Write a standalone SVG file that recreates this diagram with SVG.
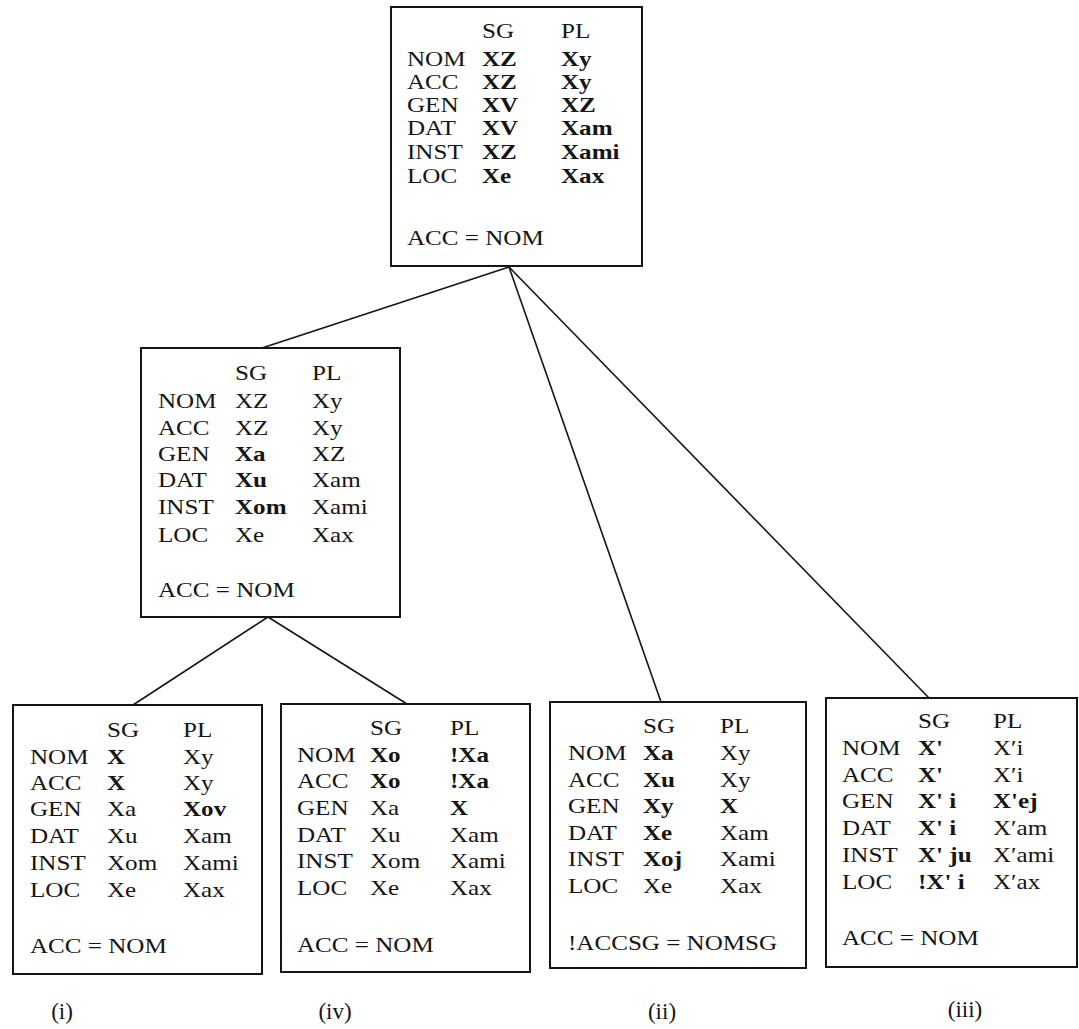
<svg xmlns="http://www.w3.org/2000/svg" width="1079" height="1029" viewBox="0 0 1079 1029">
<style>
.t{font-family:"Liberation Serif","DejaVu Serif",serif;font-size:22px;fill:#151515}
.b{font-weight:bold}
.box{fill:#fff;stroke:#151515;stroke-width:2}
.edge{stroke:#151515;stroke-width:1.6;fill:none}
.lab{font-family:"Liberation Serif","DejaVu Serif",serif;font-size:23px;fill:#151515;text-anchor:middle}
</style>
<rect width="1079" height="1029" fill="#fff"/>
<g id="connectors">
<line class="edge" x1="509" y1="267" x2="262" y2="348"/>
<line class="edge" x1="509" y1="267" x2="661" y2="702"/>
<line class="edge" x1="509" y1="267" x2="929" y2="698"/>
<line class="edge" x1="268" y1="617" x2="133" y2="705"/>
<line class="edge" x1="268" y1="617" x2="407" y2="704"/>
</g>
<g id="node-top">
<rect class="box" x="391" y="7" width="251" height="259"/>
<g class="t" transform="translate(407 0) scale(1.14 1)"><text y="66">NOM</text><text y="89">ACC</text><text y="112">GEN</text><text y="135">DAT</text><text y="159">INST</text><text y="183">LOC</text><text y="245">ACC = NOM</text></g>
<g class="t" transform="translate(482 0) scale(1.14 1)"><text y="38">SG</text><text class="b" y="66">XZ</text><text class="b" y="89">XZ</text><text class="b" y="112">XV</text><text class="b" y="135">XV</text><text class="b" y="159">XZ</text><text class="b" y="183">Xe</text></g>
<g class="t" transform="translate(561 0) scale(1.14 1)"><text y="38">PL</text><text class="b" y="66">Xy</text><text class="b" y="89">Xy</text><text class="b" y="112">XZ</text><text class="b" y="135">Xam</text><text class="b" y="159">Xami</text><text class="b" y="183">Xax</text></g>
</g>
<g id="node-mid">
<rect class="box" x="141" y="348" width="259" height="269"/>
<g class="t" transform="translate(158 0) scale(1.14 1)"><text y="408">NOM</text><text y="435">ACC</text><text y="461">GEN</text><text y="487">DAT</text><text y="514">INST</text><text y="542">LOC</text><text y="597">ACC = NOM</text></g>
<g class="t" transform="translate(235 0) scale(1.14 1)"><text y="380">SG</text><text y="408">XZ</text><text y="435">XZ</text><text class="b" y="461">Xa</text><text class="b" y="487">Xu</text><text class="b" y="514">Xom</text><text y="542">Xe</text></g>
<g class="t" transform="translate(312 0) scale(1.14 1)"><text y="380">PL</text><text y="408">Xy</text><text y="435">Xy</text><text y="461">XZ</text><text y="487">Xam</text><text y="514">Xami</text><text y="542">Xax</text></g>
</g>
<g id="node-i">
<rect class="box" x="13" y="705" width="249" height="269"/>
<g class="t" transform="translate(30 0) scale(1.14 1)"><text y="764">NOM</text><text y="790">ACC</text><text y="816">GEN</text><text y="843">DAT</text><text y="870">INST</text><text y="897">LOC</text><text y="953">ACC = NOM</text></g>
<g class="t" transform="translate(107 0) scale(1.14 1)"><text y="737">SG</text><text class="b" y="764">X</text><text class="b" y="790">X</text><text y="816">Xa</text><text y="843">Xu</text><text y="870">Xom</text><text y="897">Xe</text></g>
<g class="t" transform="translate(183 0) scale(1.14 1)"><text y="737">PL</text><text y="764">Xy</text><text y="790">Xy</text><text class="b" y="816">Xov</text><text y="843">Xam</text><text y="870">Xami</text><text y="897">Xax</text></g>
</g>
<g id="node-iv">
<rect class="box" x="281" y="704" width="249" height="268"/>
<g class="t" transform="translate(297 0) scale(1.14 1)"><text y="762">NOM</text><text y="788">ACC</text><text y="815">GEN</text><text y="842">DAT</text><text y="868">INST</text><text y="895">LOC</text><text y="952">ACC = NOM</text></g>
<g class="t" transform="translate(370 0) scale(1.14 1)"><text y="735">SG</text><text class="b" y="762">Xo</text><text class="b" y="788">Xo</text><text y="815">Xa</text><text y="842">Xu</text><text y="868">Xom</text><text y="895">Xe</text></g>
<g class="t" transform="translate(450 0) scale(1.14 1)"><text y="735">PL</text><text class="b" y="762">!Xa</text><text class="b" y="788">!Xa</text><text class="b" y="815">X</text><text y="842">Xam</text><text y="868">Xami</text><text y="895">Xax</text></g>
</g>
<g id="node-ii">
<rect class="box" x="550" y="702" width="256" height="266"/>
<g class="t" transform="translate(568 0) scale(1.14 1)"><text y="760">NOM</text><text y="787">ACC</text><text y="813">GEN</text><text y="840">DAT</text><text y="866">INST</text><text y="893">LOC</text><text y="950">!ACCSG = NOMSG</text></g>
<g class="t" transform="translate(643 0) scale(1.14 1)"><text y="733">SG</text><text class="b" y="760">Xa</text><text class="b" y="787">Xu</text><text class="b" y="813">Xy</text><text class="b" y="840">Xe</text><text class="b" y="866">Xoj</text><text y="893">Xe</text></g>
<g class="t" transform="translate(720 0) scale(1.14 1)"><text y="733">PL</text><text y="760">Xy</text><text y="787">Xy</text><text class="b" y="813">X</text><text y="840">Xam</text><text y="866">Xami</text><text y="893">Xax</text></g>
</g>
<g id="node-iii">
<rect class="box" x="826" y="698" width="251" height="269"/>
<g class="t" transform="translate(842 0) scale(1.14 1)"><text y="755">NOM</text><text y="782">ACC</text><text y="808">GEN</text><text y="835">DAT</text><text y="862">INST</text><text y="889">LOC</text><text y="945">ACC = NOM</text></g>
<g class="t" transform="translate(918 0) scale(1.14 1)"><text y="728">SG</text><text class="b" y="755">X'</text><text class="b" y="782">X'</text><text class="b" y="808">X' i</text><text class="b" y="835">X' i</text><text class="b" y="862">X' ju</text><text class="b" y="889">!X' i</text></g>
<g class="t" transform="translate(993 0) scale(1.14 1)"><text y="728">PL</text><text y="755">X′i</text><text y="782">X′i</text><text class="b" y="808">X'ej</text><text y="835">X′am</text><text y="862">X′ami</text><text y="889">X′ax</text></g>
</g>
<g id="labels">
<text class="lab" x="62" y="1019">(i)</text>
<text class="lab" x="335" y="1019">(iv)</text>
<text class="lab" x="662" y="1019">(ii)</text>
<text class="lab" x="965" y="1017">(iii)</text>
</g>
</svg>
